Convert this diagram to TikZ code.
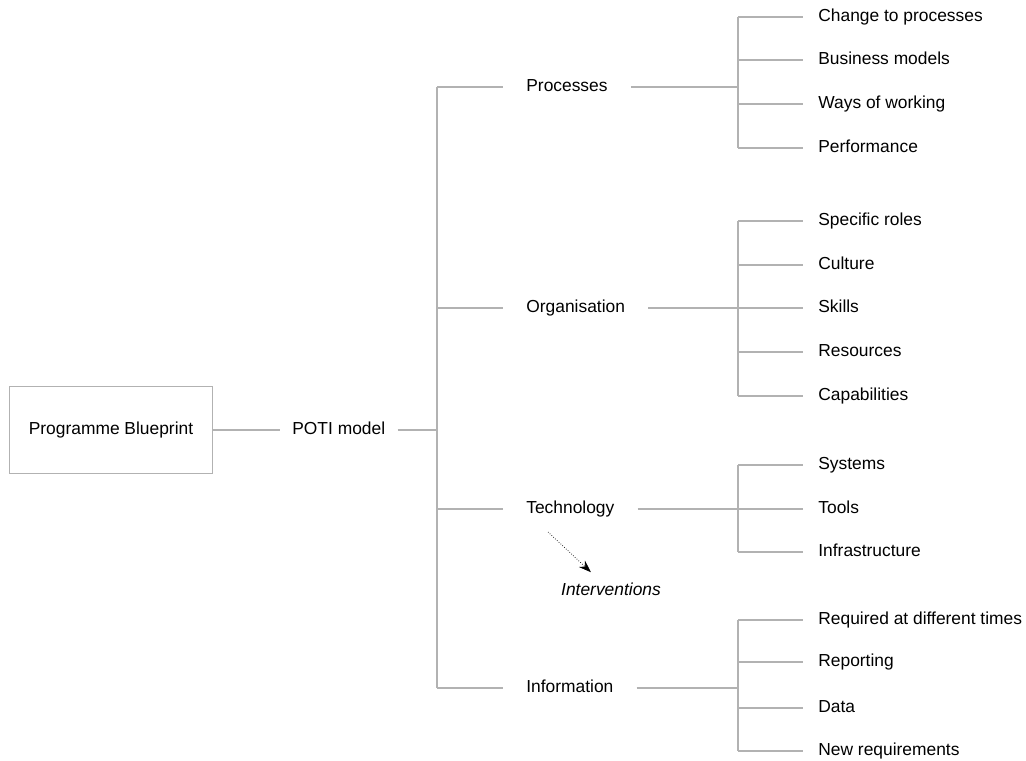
\documentclass[tikz,border=0pt]{standalone}
\usepackage{fontspec}
\setmainfont{Liberation Sans}
\usetikzlibrary{arrows.meta,positioning}

\begin{document}
\begin{tikzpicture}[x=0.02cm, y=-0.02cm, line/.style={draw=gray!60, line width=0.7pt}, arrow/.style={densely dotted, -{Stealth[length=7pt,width=5pt]}, shorten >=0.2cm}]
		\tikzset{txt/.style={font=\fontsize{9.9}{12}\selectfont, text height=7.2pt, text depth=2pt, inner ysep=2pt}}
		\tikzset{branch/.style={txt, anchor=west, inner xsep=0.46cm}}
		\tikzset{leaf/.style={txt, anchor=west, inner xsep=0.3cm}}
		\useasboundingbox (0,0) rectangle (1026,760);

		% Root
		\node[txt, draw=gray!60, line width=0.8pt, minimum width=4.06cm, minimum height=1.74cm] (blueprint) at (111,430) {Programme Blueprint};

		\node[txt, anchor=west, inner xsep=0.24cm] (poti) at (280,430) {POTI model};

		% Trunk
		\coordinate (tpoti) at (437,430);
		\coordinate (tproc) at (437,87);
		\coordinate (torg) at (437,308);
		\coordinate (ttech) at (437,509);
		\coordinate (tinfo) at (437,688);

		% POTI branches
		\node[branch] (proc) at (503,87) {Processes};
		\node[branch] (org) at (503,308) {Organisation};
		\node[branch] (tech) at (503,509) {Technology};
		\node[branch] (info) at (503,688) {Information};

		\node[txt, font=\fontsize{9.9}{12}\selectfont\itshape] (interv) at (611,591) {Interventions};

		% Junctions
		\coordinate (jproc) at (738,87);
		\coordinate (jorg) at (738,308);
		\coordinate (jtech) at (738,509);
		\coordinate (jinfo) at (738,688);

		% Processes
		\coordinate (p1) at (738,17);
		\coordinate (p2) at (738,60);
		\coordinate (p3) at (738,104);
		\coordinate (p4) at (738,148);
		\node[leaf] (change) at (803,17) {Change to processes};
		\node[leaf] (business) at (803,60) {Business models};
		\node[leaf] (ways) at (803,104) {Ways of working};
		\node[leaf] (perf) at (803,148) {Performance};

		% Organisation
		\coordinate (o1) at (738,221);
		\coordinate (o2) at (738,265);
		\coordinate (o3) at (738,308);
		\coordinate (o4) at (738,352);
		\coordinate (o5) at (738,396);
		\node[leaf] (roles) at (803,221) {Specific roles};
		\node[leaf] (culture) at (803,265) {Culture};
		\node[leaf] (skills) at (803,308) {Skills};
		\node[leaf] (resources) at (803,352) {Resources};
		\node[leaf] (capab) at (803,396) {Capabilities};

		% Technology
		\coordinate (t1) at (738,465);
		\coordinate (t2) at (738,509);
		\coordinate (t3) at (738,552);
		\node[leaf] (systems) at (803,465) {Systems};
		\node[leaf] (tools) at (803,509) {Tools};
		\node[leaf] (infra) at (803,552) {Infrastructure};

		% Information
		\coordinate (i1) at (738,620);
		\coordinate (i2) at (738,662);
		\coordinate (i3) at (738,708);
		\coordinate (i4) at (738,751);
		\node[leaf] (required) at (803,620) {Required at different times};
		\node[leaf] (reporting) at (803,662) {Reporting};
		\node[leaf] (data) at (803,708) {Data};
		\node[leaf] (newreq) at (803,751) {New requirements};

		% Lines
		\draw [line] (blueprint) -- (poti);
		\draw [line] (poti) -- (tpoti);
		\draw [line] (tproc) -- (tinfo);
		\draw [line] (tproc) -- (proc);
		\draw [line] (torg) -- (org);
		\draw [line] (ttech) -- (tech);
		\draw [line] (tinfo) -- (info);

		\draw [line] (proc) -- (jproc);
		\draw [line] (org) -- (jorg);
		\draw [line] (tech) -- (jtech);
		\draw [line] (info) -- (jinfo);

		\draw [line] (p1) -- (p4);
		\draw [line] (p1) -- (change);
		\draw [line] (p2) -- (business);
		\draw [line] (p3) -- (ways);
		\draw [line] (p4) -- (perf);

		\draw [line] (o1) -- (o5);
		\draw [line] (o1) -- (roles);
		\draw [line] (o2) -- (culture);
		\draw [line] (o3) -- (skills);
		\draw [line] (o4) -- (resources);
		\draw [line] (o5) -- (capab);

		\draw [line] (t1) -- (t3);
		\draw [line] (t1) -- (systems);
		\draw [line] (t2) -- (tools);
		\draw [line] (t3) -- (infra);

		\draw [line] (i1) -- (i4);
		\draw [line] (i1) -- (required);
		\draw [line] (i2) -- (reporting);
		\draw [line] (i3) -- (data);
		\draw [line] (i4) -- (newreq);

		\coordinate (techout) at (548,532);
		\draw [arrow] (techout) -- (interv);

	\end{tikzpicture}
\end{document}
